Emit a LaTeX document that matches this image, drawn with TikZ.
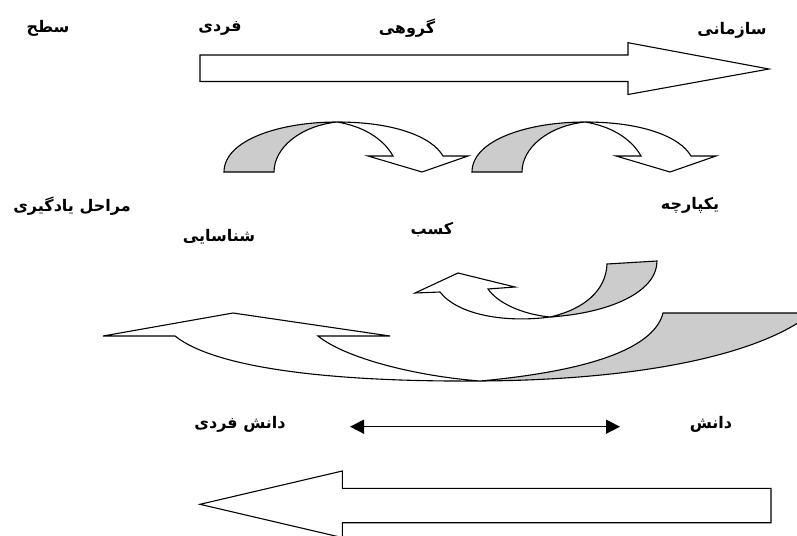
\documentclass[tikz,border=0pt]{standalone}
\usepackage{fontspec}
\TeXXeTstate=1
\newfontfamily\arabicfont[Script=Arabic]{DejaVu Sans}
\usetikzlibrary{arrows.meta}
\tikzset{
  shp/.style={draw=black, line width=1.1pt, line join=miter, fill=white},
  backside/.style={shp, fill=gray!40},
  lbl/.style={font=\arabicfont\bfseries\fontsize{16}{18}\selectfont, inner sep=0pt, anchor=center},
  dbl/.style={line width=1.5pt, {Triangle[length=14pt,width=14pt]}-{Triangle[length=14pt,width=14pt]}}
}
\newcommand\curvedarrowat[1]{%
  \begin{scope}[shift={(#1,0)}]
    \draw[backside] (224,172) .. controls (224,140) and (280,122) .. (337,122)
       .. controls (300,126) and (274,148) .. (274,172) -- cycle;
    \draw[shp] (337,122) .. controls (395,122) and (432,137) .. (443,156)
       -- (468,156) -- (422,172) -- (368,156) -- (393,156)
       .. controls (383,138) and (362,126) .. (337,122) -- cycle;
  \end{scope}}
\begin{document}
\begin{tikzpicture}[x=1pt,y=-1pt]
\useasboundingbox (0,0) rectangle (797,535);
\clip (0,0) rectangle (797,535);
% top arrow
\draw[shp] (200,55) -- (628,55) -- (628,42.7) -- (769,69) -- (628,94.5) -- (628,81.5) -- (200,81.5) -- cycle;
% curved arrows
\curvedarrowat{0}
\curvedarrowat{248}
% small curved arrow
\draw[backside] (550,317) .. controls (610,313) and (657,292) .. (657,261) -- (607,264)
   .. controls (606,290) and (585,309) .. (550,317) -- cycle;
\draw[shp] (550,317) .. controls (520,314) and (497,302) .. (488,289) -- (515,287) -- (458,273)
   -- (415,293) -- (440,292) .. controls (458,315) and (505,323) .. (550,317) -- cycle;
% big curved arrow
\draw[backside] (663,313) -- (812,313) .. controls (760,355) and (640,380) .. (480,381)
   .. controls (600,370) and (655,345) .. (663,313) -- cycle;
\draw[shp] (480,381) .. controls (415,376) and (345,358) .. (318,336) -- (390,336) -- (233,313)
   -- (103,336) -- (175,336) .. controls (215,368) and (330,382) .. (480,381) -- cycle;
% bottom arrow
\draw[shp] (771,488.3) -- (342.3,488.3) -- (342.3,471) -- (200,504.3) -- (342.3,537.6) -- (342.3,522.7) -- (771,522.7) -- cycle;
% double arrow
\coordinate (dl) at (350,426.7);
\coordinate (dr) at (620,426.7);
\draw[dbl] (dl) -- (dr);
% labels
\node[lbl] (satah) at (48,28) {\beginR سطح\endR};
\node[lbl] (fardi) at (220,28) {\beginR فردی\endR};
\node[lbl] (gorouhi) at (407,28) {\beginR گروهی\endR};
\node[lbl] (sazmani) at (732,30) {\beginR سازمانی\endR};
\node[lbl] (marahel) at (72,206) {\beginR مراحل یادگیری\endR};
\node[lbl] (yekparche) at (690,205) {\beginR یکپارچه\endR};
\node[lbl] (shenasayi) at (219,237) {\beginR شناسایی\endR};
\node[lbl] (kasb) at (432,230) {\beginR کسب\endR};
\node[lbl] (daneshfardi) at (240,424) {\beginR دانش فردی\endR};
\node[lbl] (danesh) at (711,424) {\beginR دانش\endR};
\end{tikzpicture}
\end{document}
